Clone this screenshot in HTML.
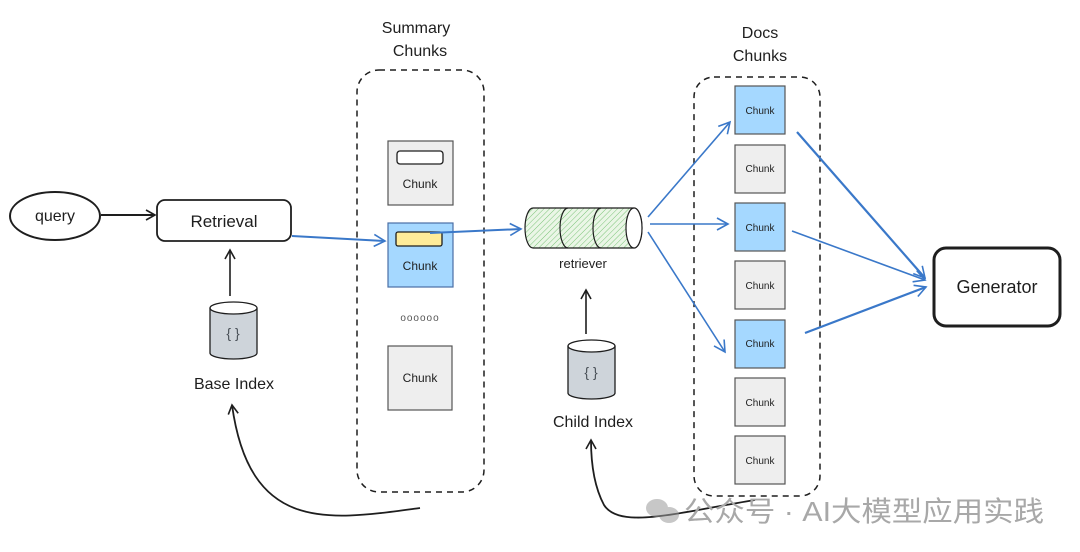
<!DOCTYPE html>
<html><head><meta charset="utf-8"><style>
html,body{margin:0;padding:0;background:#fff;}
svg{display:block;}
text{font-family:"Liberation Sans","Noto Sans CJK SC",sans-serif;}
</style></head><body>
<svg width="1080" height="552" viewBox="0 0 1080 552" xmlns="http://www.w3.org/2000/svg">
<defs>
<marker id="ab" markerWidth="12" markerHeight="12" refX="10" refY="6" orient="auto" markerUnits="userSpaceOnUse"><path d="M1,1 L10,6 L1,11" fill="none" stroke="#1e1e1e" stroke-width="1.6"/></marker>
<marker id="abl" markerWidth="14" markerHeight="14" refX="12" refY="7" orient="auto" markerUnits="userSpaceOnUse"><path d="M1,1 L12,7 L1,13" fill="none" stroke="#3a78c9" stroke-width="1.6"/></marker>
<pattern id="hatch" width="4" height="4" patternUnits="userSpaceOnUse" patternTransform="rotate(45)"><rect width="4" height="4" fill="#eaf6e6"/><line x1="0" y1="0" x2="0" y2="4" stroke="#7cc47a" stroke-width="1"/></pattern>
</defs>

<ellipse cx="55" cy="216" rx="45" ry="24" fill="#fff" stroke="#1e1e1e" stroke-width="2"/>
<text x="55" y="221" font-size="16" text-anchor="middle" fill="#1e1e1e">query</text>
<line x1="101" y1="215" x2="155" y2="215" stroke="#1e1e1e" stroke-width="2" marker-end="url(#ab)"/>

<rect x="157" y="200" width="134" height="41" rx="8" fill="#fff" stroke="#1e1e1e" stroke-width="1.8"/>
<text x="224" y="227" font-size="17" text-anchor="middle" fill="#1e1e1e">Retrieval</text>

<line x1="230" y1="296" x2="230" y2="250" stroke="#1e1e1e" stroke-width="1.6" marker-end="url(#ab)"/>
<path d="M210,308 L210,353 A23.5,6 0 0 0 257,353 L257,308" fill="#ced4da" stroke="#1e1e1e" stroke-width="1.3"/>
<ellipse cx="233.5" cy="308" rx="23.5" ry="6" fill="#fff" stroke="#1e1e1e" stroke-width="1.3"/>
<text x="233" y="338" font-size="14" text-anchor="middle" fill="#495057" font-family="Liberation Mono">{ }</text>
<text x="234" y="389" font-size="16" text-anchor="middle" fill="#1e1e1e">Base Index</text>
<path d="M420,508 C330,520 250,535 232,405" fill="none" stroke="#1e1e1e" stroke-width="1.8" marker-end="url(#ab)"/>

<text x="416" y="33" font-size="16" text-anchor="middle" fill="#1e1e1e">Summary</text>
<text x="420" y="56" font-size="16" text-anchor="middle" fill="#1e1e1e">Chunks</text>
<rect x="357" y="70" width="127" height="422" rx="22" fill="none" stroke="#1e1e1e" stroke-width="1.5" stroke-dasharray="6,5"/>
<rect x="388" y="141" width="65" height="64" fill="#eeeeee" stroke="#555" stroke-width="1.2"/>
<rect x="397" y="151" width="46" height="13" rx="3" fill="#fff" stroke="#1e1e1e" stroke-width="1.3"/>
<text x="420" y="188" font-size="12" text-anchor="middle" fill="#1e1e1e">Chunk</text>
<rect x="388" y="223" width="65" height="64" fill="#a5d8ff" stroke="#4a6fa5" stroke-width="1.2"/>
<rect x="396" y="232" width="46" height="14" rx="2" fill="#ffec99" stroke="#1e1e1e" stroke-width="1.3"/>
<text x="420" y="270" font-size="12" text-anchor="middle" fill="#1e1e1e">Chunk</text>
<text x="420" y="321" font-size="10" text-anchor="middle" fill="#555" letter-spacing="1">oooooo</text>
<rect x="388" y="346" width="64" height="64" fill="#eeeeee" stroke="#555" stroke-width="1.2"/>
<text x="420" y="382" font-size="12" text-anchor="middle" fill="#1e1e1e">Chunk</text>

<line x1="292" y1="236" x2="385" y2="241" stroke="#3a78c9" stroke-width="2" marker-end="url(#abl)"/>
<line x1="430" y1="233" x2="521" y2="229" stroke="#3a78c9" stroke-width="2" marker-end="url(#abl)"/>

<path d="M533,208 L634,208 A8,20 0 0 1 634,248 L533,248 A8,20 0 0 1 533,208 Z" fill="url(#hatch)" stroke="#1e1e1e" stroke-width="1.2"/>
<path d="M568,208 A8,20 0 0 0 568,248 M601,208 A8,20 0 0 0 601,248" fill="none" stroke="#1e1e1e" stroke-width="1.2"/>
<ellipse cx="634" cy="228" rx="8" ry="20" fill="#fff" stroke="#1e1e1e" stroke-width="1.2"/>
<text x="583" y="268" font-size="13" text-anchor="middle" fill="#1e1e1e">retriever</text>

<line x1="586" y1="334" x2="586" y2="290" stroke="#1e1e1e" stroke-width="1.6" marker-end="url(#ab)"/>
<path d="M568,346 L568,393 A23.5,6 0 0 0 615,393 L615,346" fill="#ced4da" stroke="#1e1e1e" stroke-width="1.3"/>
<ellipse cx="591.5" cy="346" rx="23.5" ry="6" fill="#fff" stroke="#1e1e1e" stroke-width="1.3"/>
<text x="591" y="377" font-size="14" text-anchor="middle" fill="#495057" font-family="Liberation Mono">{ }</text>
<text x="593" y="427" font-size="16" text-anchor="middle" fill="#1e1e1e">Child Index</text>
<path d="M755,500 C680,512 620,530 604,505 C596,490 591,470 591,440" fill="none" stroke="#1e1e1e" stroke-width="1.8" marker-end="url(#ab)"/>

<text x="760" y="38" font-size="16" text-anchor="middle" fill="#1e1e1e">Docs</text>
<text x="760" y="61" font-size="16" text-anchor="middle" fill="#1e1e1e">Chunks</text>
<rect x="694" y="77" width="126" height="419" rx="20" fill="none" stroke="#1e1e1e" stroke-width="1.5" stroke-dasharray="6,5"/>
<g font-size="10" text-anchor="middle" fill="#1e1e1e">
<rect x="735" y="86" width="50" height="48" fill="#a5d8ff" stroke="#555" stroke-width="1.2"/><text x="760" y="114">Chunk</text>
<rect x="735" y="145" width="50" height="48" fill="#eeeeee" stroke="#555" stroke-width="1.2"/><text x="760" y="172">Chunk</text>
<rect x="735" y="203" width="50" height="48" fill="#a5d8ff" stroke="#555" stroke-width="1.2"/><text x="760" y="231">Chunk</text>
<rect x="735" y="261" width="50" height="48" fill="#eeeeee" stroke="#555" stroke-width="1.2"/><text x="760" y="289">Chunk</text>
<rect x="735" y="320" width="50" height="48" fill="#a5d8ff" stroke="#555" stroke-width="1.2"/><text x="760" y="347">Chunk</text>
<rect x="735" y="378" width="50" height="48" fill="#eeeeee" stroke="#555" stroke-width="1.2"/><text x="760" y="406">Chunk</text>
<rect x="735" y="436" width="50" height="48" fill="#eeeeee" stroke="#555" stroke-width="1.2"/><text x="760" y="464">Chunk</text>
</g>
<line x1="648" y1="217" x2="730" y2="122" stroke="#3a78c9" stroke-width="1.6" marker-end="url(#abl)"/>
<line x1="650" y1="224" x2="728" y2="224" stroke="#3a78c9" stroke-width="1.6" marker-end="url(#abl)"/>
<line x1="648" y1="232" x2="725" y2="352" stroke="#3a78c9" stroke-width="1.6" marker-end="url(#abl)"/>

<rect x="934" y="248" width="126" height="78" rx="12" fill="#fff" stroke="#1e1e1e" stroke-width="3"/>
<text x="997" y="293" font-size="18" text-anchor="middle" fill="#1e1e1e">Generator</text>
<line x1="797" y1="132" x2="925" y2="278" stroke="#3a78c9" stroke-width="2.2" marker-end="url(#abl)"/>
<line x1="792" y1="231" x2="925" y2="280" stroke="#3a78c9" stroke-width="1.6" marker-end="url(#abl)"/>
<line x1="805" y1="333" x2="926" y2="287" stroke="#3a78c9" stroke-width="2.2" marker-end="url(#abl)"/>

<g opacity="0.55" fill="#9a9a9a">
<ellipse cx="657" cy="508" rx="11" ry="9"/>
<ellipse cx="669" cy="515" rx="10" ry="8"/>
</g>
<text x="684" y="521" font-size="28" fill="#a8a8a8" textLength="360" lengthAdjust="spacingAndGlyphs">公众号 · AI大模型应用实践</text>
</svg>
</body></html>
